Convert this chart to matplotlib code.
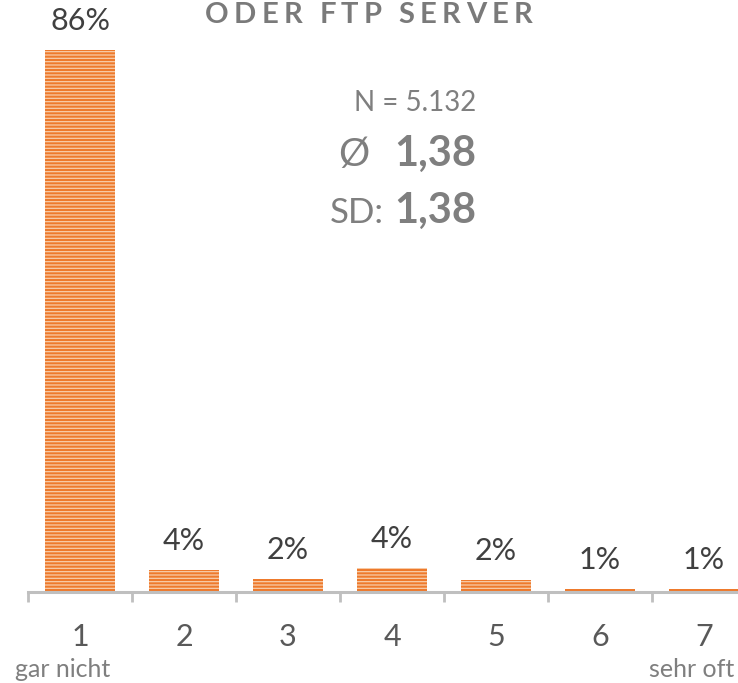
#!/usr/bin/env python3

import matplotlib
matplotlib.use('Agg')
import matplotlib.pyplot as plt

# data
categories = ['1', '2', '3', '4', '5', '6', '7']
shares = [86.0, 3.5, 2.1, 3.8, 1.9, 0.5, 0.4]
share_labels = ['86%', '4%', '2%', '4%', '2%', '1%', '1%']
scale_left = 'gar nicht'
scale_right = 'sehr oft'
title = 'ODER FTP SERVER'
n_text = 'N = 5.132'
mean_text = '1,38'
sd_text = '1,38'

plt.rcParams['font.family'] = ['Lato', 'DejaVu Sans']
plt.rcParams['hatch.linewidth'] = 0.9

W, H = 738, 683
fig = plt.figure(figsize=(W / 100, H / 100), dpi=100)

px = 6.302  # pixels per percent
ax = fig.add_axes([28 / W, 91 / H, 728 / W, 100 * px / H])
ax.set_xlim(-0.5, 6.5)
ax.set_ylim(0, 100)

x = list(range(len(categories)))
ax.bar(x, shares, width=0.665, color='#EE7A2C', edgecolor='#F8CDAA',
       hatch='-----', linewidth=0)

for xi, v, lab in zip(x, shares, share_labels):
    ax.annotate(lab, (xi, v), xytext=(0, 20), textcoords='offset pixels',
                ha='center', va='baseline', fontsize=22, color='#404040')

for s in ['top', 'right', 'left']:
    ax.spines[s].set_visible(False)
ax.spines['bottom'].set_color('#BFBFBF')
ax.spines['bottom'].set_linewidth(2.2)
ax.set_yticks([])

ax.set_xticks(x)
ax.set_xticklabels(categories, fontsize=22, color='#595959')
ax.tick_params(axis='x', which='major', length=0, pad=22)
ax.set_xticks([i - 0.5 for i in range(len(categories) + 1)], minor=True)
ax.tick_params(axis='x', which='minor', direction='out', length=7,
               width=2, color='#BFBFBF')

fig.text(15 / W, 1 - 677 / H, scale_left, ha='left', va='baseline',
         fontsize=18, color='#7F7F7F')
fig.text(734 / W, 1 - 677 / H, scale_right, ha='right', va='baseline',
         fontsize=18, color='#7F7F7F')

# stats block
fig.text(476 / W, 1 - 111 / H, n_text, ha='right', va='baseline',
         fontsize=20, color='#7F7F7F')
fig.text(476 / W, 1 - 166 / H, mean_text, ha='right', va='baseline',
         fontsize=30, fontweight='bold', color='#7F7F7F')
fig.text(369 / W, 1 - 166 / H, '\u00d8', ha='right', va='baseline',
         fontsize=28, color='#7F7F7F')
fig.text(476 / W, 1 - 223 / H, sd_text, ha='right', va='baseline',
         fontsize=30, fontweight='bold', color='#7F7F7F')
fig.text(384 / W, 1 - 223 / H, 'SD:', ha='right', va='baseline',
         fontsize=25, color='#7F7F7F')

# letter-spaced title
renderer = fig.canvas.get_renderer()
t_kw = dict(fontsize=21, fontweight='bold', color='#7A7A7A', va='baseline')
widths = []
for ch in title:
    if ch == ' ':
        widths.append(7)
        continue
    t = fig.text(0, 0, ch, **t_kw)
    widths.append(t.get_window_extent(renderer).width)
    t.remove()
left, right = 205, 532
gap = (right - left - sum(widths)) / (len(title) - 1)
xp = left
for ch, w in zip(title, widths):
    if ch != ' ':
        fig.text(xp / W, 1 - 23 / H, ch, **t_kw)
    xp += w + gap

fig.savefig('out.png', dpi=100)
